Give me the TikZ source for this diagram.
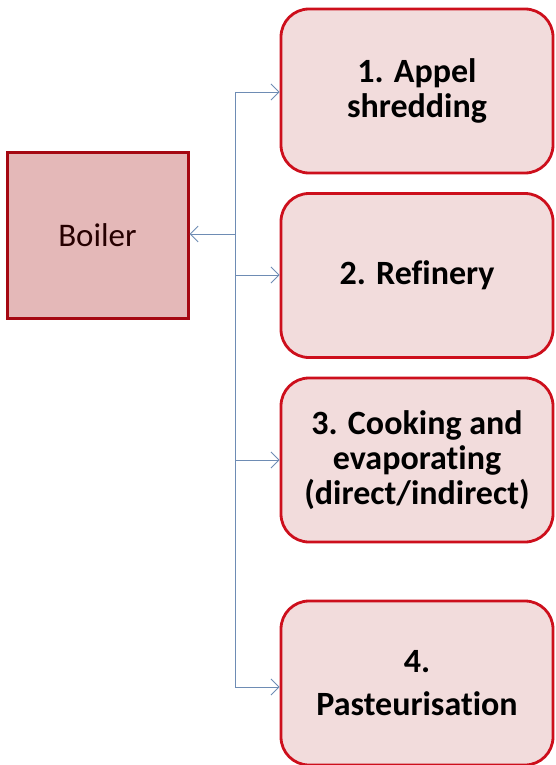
\documentclass[tikz,border=0pt]{standalone}
\usepackage{fontspec}
\setmainfont[Ligatures=NoCommon]{Carlito}
\usetikzlibrary{arrows.meta}
\definecolor{boxfill}{RGB}{242,220,220}
\definecolor{boxline}{RGB}{205,15,28}
\definecolor{boilfill}{RGB}{228,184,184}
\definecolor{boilline}{RGB}{165,8,18}
\definecolor{conn}{RGB}{110,140,180}
\tikzset{
  stepbox/.style={draw=boxline, fill=boxfill, line width=2.8pt, rounded corners=28pt,
    minimum width=272pt, minimum height=164pt, inner sep=0pt, align=center,
    font=\bfseries\fontsize{34}{35}\selectfont, text=black},
  boilbox/.style={draw=boilline, fill=boilfill, line width=3pt,
    minimum width=181pt, minimum height=166pt, inner sep=0pt,
    font=\fontsize{33}{36}\selectfont, text=black!85!red},
  link/.style={draw=conn, line width=0.9pt, -{Straight Barb[length=8pt,width=16pt,line width=0.9pt]}},
  trunk/.style={draw=conn, line width=0.9pt}
}
\begin{document}
\begin{tikzpicture}[x=1pt,y=-1pt]
\useasboundingbox (0,0) rectangle (555,765);
\node[boilbox] (boiler) at (97.5,235) {Boiler};
\node[stepbox] (s1) at (417,91) {1. Appel\\shredding};
\node[stepbox] (s2) at (417,275.5) {2. Refinery};
\node[stepbox] (s3) at (417,460) {3. Cooking and\\evaporating\\(direct/indirect)};
\node[stepbox, font=\bfseries\fontsize{34}{43}\selectfont] (s4) at (417,683) {4.\\Pasteurisation};
\coordinate (j1) at (235,92);
\coordinate (jb) at (235,234);
\coordinate (j2) at (235,275);
\coordinate (j3) at (235,460);
\coordinate (j4) at (235,687);
\draw[trunk] (j1) -- (j4);
\draw[link] (jb) -- (boiler.east |- jb);
\draw[link] (j1) -- (s1.west |- j1);
\draw[link] (j2) -- (s2.west |- j2);
\draw[link] (j3) -- (s3.west |- j3);
\draw[link] (j4) -- (s4.west |- j4);
\end{tikzpicture}
\end{document}
